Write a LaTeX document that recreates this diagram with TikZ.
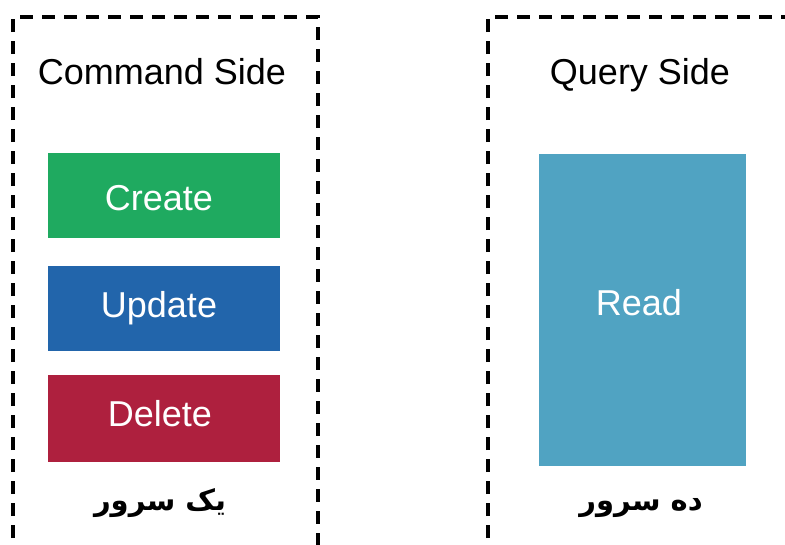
\documentclass[tikz,border=0pt]{standalone}
\usepackage{fontspec}
\setmainfont{Liberation Sans}
\newfontfamily\arabicfont[Script=Arabic]{DejaVu Sans}
\TeXXeTstate=1
\definecolor{cgreen}{RGB}{31,170,96}
\definecolor{cblue}{RGB}{34,101,171}
\definecolor{cred}{RGB}{174,32,62}
\definecolor{cteal}{RGB}{80,163,194}
\tikzset{
  frame/.style={draw=black, line width=3.5pt, dash pattern=on 13pt off 9pt},
  opbox/.style={minimum width=232pt, minimum height=85pt, inner sep=0pt},
  boxtext/.style={text=white, anchor=base, inner sep=0pt, font=\fontsize{36}{40}\selectfont},
  title/.style={font=\fontsize{36}{40}\selectfont, anchor=base, inner sep=0pt},
  servers/.style={font=\arabicfont\bfseries\fontsize{29}{34}\selectfont, anchor=base, inner sep=0pt}
}
\begin{document}
\begin{tikzpicture}[x=1pt,y=-1pt]
\useasboundingbox (0,0) rectangle (785,544);
\clip (0,0) rectangle (785,544);
% dashed frames, open at the bottom (and on the right for the query side)
\draw[frame] (13,560) -- (13,17) -- (318,17) -- (318,560);
\draw[frame] (488,560) -- (488,17) -- (800,17);
% command side
\node[title] (cmdtitle) at (162,84) {Command Side};
\node[opbox, fill=cgreen] (create) at (164,195.5) {};
\node[opbox, fill=cblue] (update) at (164,308.5) {};
\node[opbox, fill=cred, minimum height=87pt] (delete) at (164,418.5) {};
\node[boxtext] (createlbl) at (159,210) {Create};
\node[boxtext] (updatelbl) at (159,317) {Update};
\node[boxtext] (deletelbl) at (160,426) {Delete};
\node[servers] (oneserver) at (160,510) {\beginR یک سرور\endR};
% query side
\node[title] (qrytitle) at (640,84) {Query Side};
\node[opbox, fill=cteal, minimum width=207pt, minimum height=312pt] (read) at (642.5,310) {};
\node[boxtext] (readlbl) at (639,315) {Read};
\node[servers] (tenservers) at (641,510) {\beginR ده سرور\endR};
\end{tikzpicture}
\end{document}
